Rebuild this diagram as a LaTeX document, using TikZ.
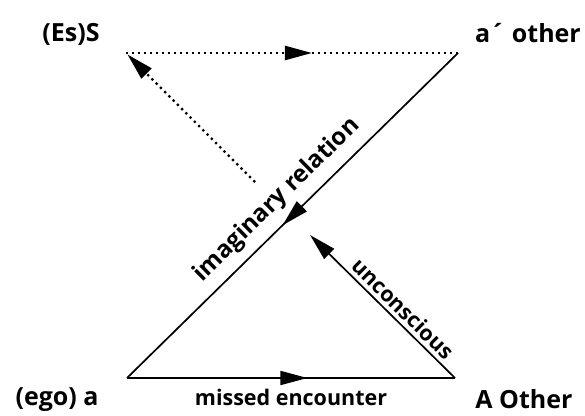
\documentclass[tikz,border=0pt]{standalone}
\usepackage{fontspec}
\setmainfont{Open Sans}
\usetikzlibrary{arrows.meta, positioning, decorations.markings}

\begin{document}
\begin{tikzpicture}[x=1pt, y=1pt,
  lbl/.style={font=\fontsize{25}{28}\selectfont\bfseries, inner sep=0pt},
  edgelbl/.style={font=\fontsize{21.5}{24}\selectfont\bfseries, inner sep=0pt},
  ln/.style={line width=1.7pt},
  dotline/.style={line width=2.4pt, dash pattern=on 2.2pt off 3.8pt},
  arrowtip/.style={-{Triangle[length=27pt,width=14pt]}},
  midarrow/.style={postaction={decorate, solid}, decoration={markings, mark=at position #1 with {\arrow{Triangle[length=27pt,width=14pt]}}}},
]
  \useasboundingbox (0,0) rectangle (585,415);

  % corners of the schema
  \coordinate (S) at (126,362);
  \coordinate (ao) at (458,362);
  \coordinate (a) at (127,37);
  \coordinate (A) at (455,37);
  \coordinate (u) at (310,180);
  \coordinate (v) at (255,233);

  \node[lbl] (ES) at (71,381) {(Es)S};
  \node[lbl] (other) at (528,382) {a´ other};
  \node[lbl] (ego) at (57,15) {(ego) a};
  \node[lbl] (Other) at (524,16) {A Other};

  \draw[dotline, midarrow=0.56] (S) -- (ao);
  \draw[ln, midarrow=0.53] (ao) -- node[edgelbl, font=\fontsize{24}{26}\selectfont\bfseries, sloped, above=9pt] {imaginary relation} (a);
  \draw[ln, midarrow=0.55] (a) -- node[edgelbl, below=10pt] {missed encounter} (A);
  \draw[ln, arrowtip] (A) -- node[edgelbl, sloped, above=4pt, pos=0.42] {unconscious} (u);
  \draw[dotline, arrowtip, shorten >=2pt] (v) -- (S);
\end{tikzpicture}
\end{document}
